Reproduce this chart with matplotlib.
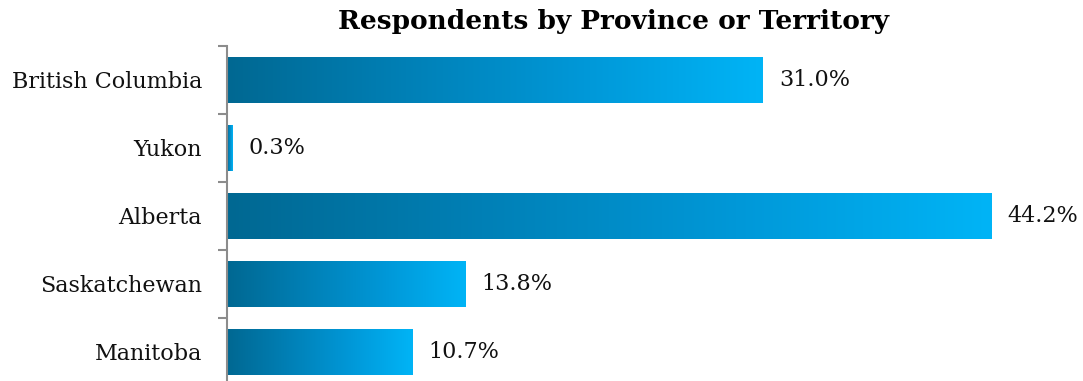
import numpy as np
import matplotlib
matplotlib.use("Agg")
import matplotlib.pyplot as plt
from matplotlib.colors import LinearSegmentedColormap
from matplotlib.ticker import FixedLocator

provinces = ["British Columbia", "Yukon", "Alberta", "Saskatchewan", "Manitoba"]
shares = [31.0, 0.3, 44.2, 13.8, 10.7]
title = "Respondents by Province or Territory"

plt.rcParams["font.family"] = ["DejaVu Serif"]

W, H, DPI = 1083, 381, 100
fig = plt.figure(figsize=(W / DPI, H / DPI), dpi=DPI)

# axes geometry in pixels
left_px, top_px = 227, 46
slot_px = 68.0
px_per_unit = 17.29
ax = fig.add_axes([left_px / W, 0, 1 - left_px / W, 1 - top_px / H])

x_max = (W - left_px) / px_per_unit
y_bottom = -0.5 + (H - top_px) / slot_px

cmap = LinearSegmentedColormap.from_list(
    "bar_grad", ["#006892", "#0080b6", "#0098d8", "#00b4f6"])
grad = np.linspace(0, 1, 256).reshape(1, -1)
bar_h = 0.67

for i, v in enumerate(shares):
    ax.imshow(grad, cmap=cmap, aspect="auto", interpolation="bilinear",
              extent=[0, v, i + bar_h / 2, i - bar_h / 2], zorder=2)
    ax.annotate(f"{v:.1f}%", xy=(v, i), xytext=(11.5, 0),
                textcoords="offset points", ha="left", va="center",
                fontsize=16, color="#111111")

ax.set_xlim(0, x_max)
ax.set_ylim(y_bottom, -0.5)

for side in ("top", "right", "bottom"):
    ax.spines[side].set_visible(False)
ax.spines["left"].set_color("#8c8c8c")
ax.spines["left"].set_linewidth(1.5)
ax.set_xticks([])

ax.set_yticks(range(len(provinces)))
ax.set_yticklabels(provinces, fontsize=16, color="#111111")
ax.tick_params(axis="y", which="major", length=0, pad=18)
ax.yaxis.set_minor_locator(FixedLocator([k - 0.5 for k in range(len(provinces) + 1)]))
ax.tick_params(axis="y", which="minor", length=6.5, width=1.5, color="#8c8c8c")

fig.text(613 / W, 1 - 22 / H, title, ha="center", va="center",
         fontsize=19, fontweight="bold", color="black")

fig.savefig("out.png", dpi=DPI)
